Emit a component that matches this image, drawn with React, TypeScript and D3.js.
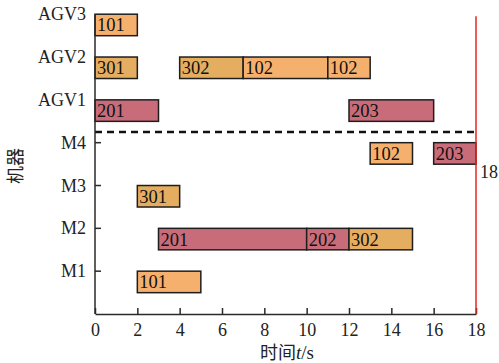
import { useEffect, useRef } from "react";
import * as d3 from "d3";

const machines = ["M1", "M2", "M3", "M4", "AGV1", "AGV2", "AGV3"];
const xTicks = [0, 2, 4, 6, 8, 10, 12, 14, 16, 18];
const makespan = 18;

// [machine, label, start, end, kind]
const tasks: [string, string, number, number, string][] = [
  ["M1", "101", 2, 5, "a"],
  ["M2", "201", 3, 10, "b"],
  ["M2", "202", 10, 12, "b"],
  ["M2", "302", 12, 15, "c"],
  ["M3", "301", 2, 4, "c"],
  ["M4", "102", 13, 15, "a"],
  ["M4", "203", 16, 18, "b"],
  ["AGV1", "201", 0, 3, "b"],
  ["AGV1", "203", 12, 16, "b"],
  ["AGV2", "301", 0, 2, "c"],
  ["AGV2", "302", 4, 7, "c"],
  ["AGV2", "102", 7, 11, "a"],
  ["AGV2", "102", 11, 13, "a"],
  ["AGV3", "101", 0, 2, "a"],
];

const colors: Record<string, string> = {
  a: "#f6b06d",
  b: "#c96c7a",
  c: "#e4ad60",
};

const Chart = () => {
  const ref = useRef(null);

  useEffect(() => {
    if (!ref.current) return;
    const svg = d3.select(ref.current);
    svg.selectAll("*").remove();

    const width = 499;
    const height = 363;
    const font = "Liberation Serif";
    const ink = "#2a2a2a";

    svg.attr("viewBox", [0, 0, width, height]);

    const x = d3.scaleLinear().domain([0, 18]).range([95, 476]);
    const y = d3.scaleLinear().domain([0, 7]).range([314, 14.2]);
    const yPos = (m: string) => y(machines.indexOf(m) + 1);
    const barH = 21.5;

    // bars
    const g = svg.append("g");
    tasks.forEach(([m, label, s, e, k]) => {
      g.append("rect")
        .attr("x", x(s))
        .attr("y", yPos(m))
        .attr("width", x(e) - x(s))
        .attr("height", barH)
        .attr("fill", colors[k])
        .attr("stroke", "#1e1e1e")
        .attr("stroke-width", 1.5);
      g.append("text")
        .attr("x", x(s) + 2)
        .attr("y", yPos(m) + barH / 2 + 6.5)
        .attr("font-family", font)
        .attr("font-size", 18.5)
        .attr("fill", "#111")
        .text(label);
    });

    // dashed separator between machines and AGVs
    const sepY = (yPos("M4") + yPos("AGV1") + barH) / 2;
    svg
      .append("line")
      .attr("x1", x(0))
      .attr("x2", x(makespan))
      .attr("y1", sepY)
      .attr("y2", sepY)
      .attr("stroke", "#111")
      .attr("stroke-width", 2.5)
      .attr("stroke-dasharray", "7,5");

    // x axis
    const gx = svg
      .append("g")
      .attr("transform", `translate(0,${y(0)})`)
      .call(
        d3
          .axisBottom(x)
          .tickValues(xTicks)
          .tickSizeInner(-6)
          .tickSizeOuter(0)
          .tickPadding(9)
      );
    gx.attr("font-family", font);
    gx.selectAll("path, line").attr("stroke", ink).attr("stroke-width", 1.5);
    gx.selectAll("text")
      .attr("font-family", font)
      .attr("font-size", 18)
      .attr("fill", "#222");

    // y axis
    svg
      .append("line")
      .attr("x1", x(0))
      .attr("x2", x(0))
      .attr("y1", y(7))
      .attr("y2", y(0))
      .attr("stroke", ink)
      .attr("stroke-width", 1.5);
    machines.forEach((m) => {
      const yy = yPos(m);
      if (m.startsWith("M")) {
        svg
          .append("line")
          .attr("x1", x(0))
          .attr("x2", x(0) + 6)
          .attr("y1", yy)
          .attr("y2", yy)
          .attr("stroke", ink)
          .attr("stroke-width", 1.5);
      }
      svg
        .append("text")
        .attr("x", x(0) - 9)
        .attr("y", yy + 6)
        .attr("text-anchor", "end")
        .attr("font-family", font)
        .attr("font-size", 18)
        .attr("fill", "#222")
        .text(m);
    });

    // makespan line
    svg
      .append("line")
      .attr("x1", x(makespan))
      .attr("x2", x(makespan))
      .attr("y1", y(7) + 2)
      .attr("y2", y(0))
      .attr("stroke", "#e8231c")
      .attr("stroke-width", 1.5);
    svg
      .append("text")
      .attr("x", x(makespan) + 4)
      .attr("y", 178)
      .attr("font-family", font)
      .attr("font-size", 18)
      .attr("fill", "#222")
      .text(makespan);

    // axis titles
    const xt = svg
      .append("text")
      .attr("x", 287)
      .attr("y", 359)
      .attr("text-anchor", "middle")
      .attr("font-family", "Noto Sans CJK SC")
      .attr("font-size", 18)
      .attr("fill", "#222");
    xt.append("tspan").text("时间");
    xt.append("tspan").attr("font-family", font).attr("font-style", "italic").attr("font-size", 19).text("t");
    xt.append("tspan").attr("font-family", font).attr("font-size", 19).text("/s");

    svg
      .append("text")
      .attr("transform", "translate(22,166) rotate(-90)")
      .attr("text-anchor", "middle")
      .attr("font-family", "Noto Sans CJK SC")
      .attr("font-size", 18)
      .attr("fill", "#222")
      .text("机器");
  }, []);

  return (
    <svg
      ref={ref}
      width={499}
      height={363}
      style={{ position: "absolute", left: 0, top: 0, background: "#fff" }}
    ></svg>
  );
};

export default function App() {
  return <Chart />;
}
